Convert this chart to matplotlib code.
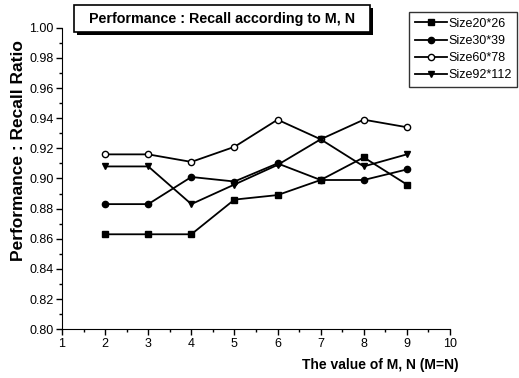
import matplotlib
matplotlib.use("Agg")
import matplotlib.pyplot as plt
from matplotlib.ticker import MultipleLocator, FormatStrFormatter
from matplotlib.patches import Rectangle

plt.rcParams['font.family'] = ['Liberation Sans', 'DejaVu Sans']

x = [2, 3, 4, 5, 6, 7, 8, 9]
size20 = [0.863, 0.863, 0.863, 0.886, 0.889, 0.899, 0.914, 0.896]
size30 = [0.883, 0.883, 0.901, 0.898, 0.910, 0.899, 0.899, 0.906]
size60 = [0.916, 0.916, 0.911, 0.921, 0.939, 0.926, 0.939, 0.934]
size92 = [0.908, 0.908, 0.883, 0.896, 0.909, 0.926, 0.908, 0.916]
labels = ["Size20*26", "Size30*39", "Size60*78", "Size92*112"]

W, H = 519, 378
fig = plt.figure(figsize=(W / 100, H / 100), dpi=100)
ax = fig.add_axes([0.1195, 0.1289, 0.7475, 0.7978])

kw = dict(color='black', lw=1.3)
l1, = ax.plot(x, size20, marker='s', mfc='black', ms=4.5, label=labels[0], **kw)
l2, = ax.plot(x, size30, marker='o', mfc='black', ms=4.5, label=labels[1], **kw)
l3, = ax.plot(x, size60, marker='o', mfc='white', ms=4.5, mew=1.0, label=labels[2], **kw)
l4, = ax.plot(x, size92, marker='v', mfc='black', ms=5, label=labels[3], **kw)

ax.set_xlim(1, 10)
ax.set_ylim(0.80, 1.00)
ax.xaxis.set_major_locator(MultipleLocator(1))
ax.xaxis.set_minor_locator(MultipleLocator(0.5))
ax.yaxis.set_major_locator(MultipleLocator(0.02))
ax.yaxis.set_minor_locator(MultipleLocator(0.01))
ax.yaxis.set_major_formatter(FormatStrFormatter('%.2f'))
ax.spines['top'].set_visible(False)
ax.spines['right'].set_visible(False)
ax.tick_params(which='major', direction='out', length=4, width=1, labelsize=9, pad=2)
ax.tick_params(which='minor', direction='out', length=2.5, width=1)

fig.text(19 / W, 1 - 151 / H, "Performance : Recall Ratio", fontsize=12.5,
         fontweight='bold', rotation=90, ha='center', va='center')
fig.text(0.732, 0.035, "The value of M, N (M=N)", fontsize=10, fontweight='bold',
         ha='center', va='center')

# title box with shadow
bx0, bx1, by0, by1 = 74, 370, 5, 32
fig.patches.append(Rectangle(((bx0 + 3) / W, 1 - (by1 + 3) / H), (bx1 - bx0) / W,
                             (by1 - by0) / H, transform=fig.transFigure,
                             fc='black', ec='black', lw=0, zorder=1))
fig.patches.append(Rectangle((bx0 / W, 1 - by1 / H), (bx1 - bx0) / W,
                             (by1 - by0) / H, transform=fig.transFigure,
                             fc='white', ec='black', lw=1.2, zorder=2))
fig.text((bx0 + bx1) / 2 / W, 1 - (by0 + by1) / 2 / H,
         "Performance : Recall according to M, N", fontsize=10.3,
         fontweight='bold', ha='center', va='center', zorder=3)

leg = fig.legend(handles=[l1, l2, l3, l4], loc='upper right',
                 bbox_to_anchor=(517 / W, 1 - 12 / H), fontsize=9, frameon=True,
                 fancybox=False, edgecolor='black', handlelength=2.6,
                 handletextpad=0.05, borderpad=0.45, labelspacing=0.42,
                 borderaxespad=0.0)
leg.get_frame().set_linewidth(1.0)

fig.savefig("out.png", dpi=100)
